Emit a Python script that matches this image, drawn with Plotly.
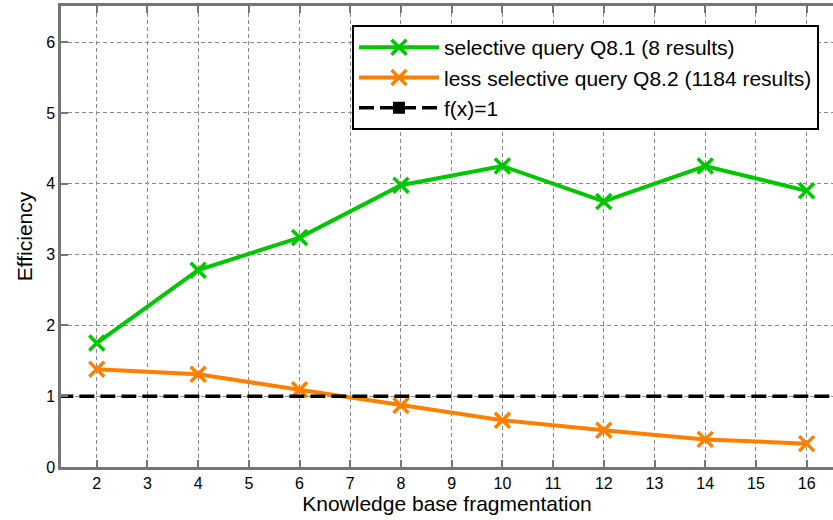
import plotly.graph_objects as go

fragmentation = [2, 4, 6, 8, 10, 12, 14, 16]
selective_q81 = [1.75, 2.78, 3.24, 3.98, 4.25, 3.75, 4.25, 3.90]
less_selective_q82 = [1.38, 1.31, 1.09, 0.87, 0.66, 0.52, 0.39, 0.33]
ref_x = [0, 18]
ref_y = [1, 1]

x_ticks = list(range(2, 17))
y_ticks = list(range(0, 7))

GREEN = "#00c800"
ORANGE = "#ff7f00"
AXIS_GRAY = "#757575"
FONT = "Liberation Sans, Arial, Helvetica, sans-serif"

fig = go.Figure()
fig.add_trace(go.Scatter(
    x=fragmentation, y=selective_q81, mode="lines+markers",
    name="selective query Q8.1 (8 results)",
    line=dict(color=GREEN, width=4),
    marker=dict(symbol="x-thin", size=15, line=dict(color=GREEN, width=3.5)),
))
fig.add_trace(go.Scatter(
    x=fragmentation, y=less_selective_q82, mode="lines+markers",
    name="less selective query Q8.2 (1184 results)",
    line=dict(color=ORANGE, width=4),
    marker=dict(symbol="x-thin", size=15, line=dict(color=ORANGE, width=3.5)),
))
fig.add_trace(go.Scatter(
    x=ref_x, y=ref_y, mode="lines+markers",
    name="f(x)=1",
    line=dict(color="black", width=3.5, dash="15px,6px"),
    marker=dict(symbol="square", size=12, color="black"),
))

fig.update_layout(
    width=833, height=520,
    margin=dict(l=61, r=0, t=6, b=53),
    paper_bgcolor="white", plot_bgcolor="white",
    font=dict(family=FONT, size=16, color="black"),
    showlegend=True,
    legend=dict(
        x=(352 - 61) / 772, y=1 - (25 - 6) / 461, xanchor="left", yanchor="top",
        bgcolor="white", bordercolor="black", borderwidth=2,
        font=dict(family=FONT, size=21, color="black"),
        itemwidth=80, tracegroupgap=0,
    ),
    xaxis=dict(
        range=[1.295, 16.52], tickvals=x_ticks, ticktext=[str(v) for v in x_ticks],
        showline=True, linecolor=AXIS_GRAY, linewidth=2.5, mirror="allticks",
        ticks="inside", ticklen=7, tickwidth=2, tickcolor=AXIS_GRAY,
        showgrid=True, gridcolor="#8a8a8a", gridwidth=1, griddash="4px,3px",
        zeroline=False,
        title=dict(text="Knowledge base fragmentation", font=dict(size=21), standoff=5),
        tickfont=dict(size=16),
    ),
    yaxis=dict(
        range=[0, 6.51], tickvals=y_ticks, ticktext=[str(v) for v in y_ticks],
        showline=True, linecolor=AXIS_GRAY, linewidth=2.5, mirror=False,
        ticks="inside", ticklen=7, tickwidth=2, tickcolor=AXIS_GRAY,
        showgrid=True, gridcolor="#8a8a8a", gridwidth=1, griddash="4px,3px",
        zeroline=False,
        title=dict(text="Efficiency", font=dict(size=21), standoff=8),
        tickfont=dict(size=16),
    ),
)

fig.write_html(
    "out.html",
    config={"displayModeBar": False},
    post_script="document.body.style.margin='0';document.body.style.overflow='hidden';",
)
